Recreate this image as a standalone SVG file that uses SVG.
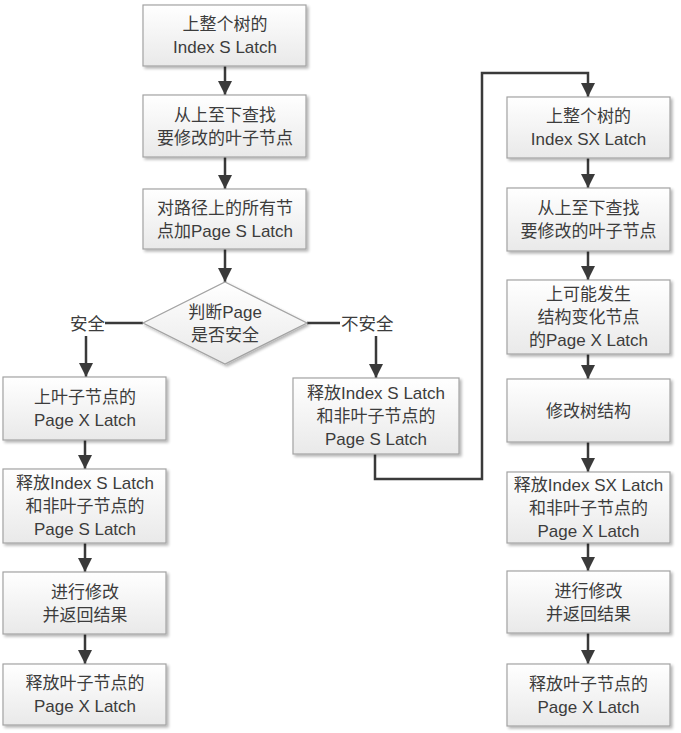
<svg xmlns="http://www.w3.org/2000/svg" width="681" height="733" viewBox="0 0 681 733">
<defs>
<linearGradient id="g" x1="0" y1="0" x2="0" y2="1">
<stop offset="0" stop-color="#ffffff"/>
<stop offset="1" stop-color="#e9e9e9"/>
</linearGradient>
<filter id="sh" x="-10%" y="-10%" width="125%" height="130%">
<feGaussianBlur in="SourceAlpha" stdDeviation="1.5"/>
<feOffset dx="1.5" dy="2" result="o"/>
<feComponentTransfer><feFuncA type="linear" slope="0.3"/></feComponentTransfer>
<feMerge><feMergeNode/><feMergeNode in="SourceGraphic"/></feMerge>
</filter>
<marker id="ah" viewBox="0 0 10 10" refX="10" refY="5" markerWidth="6" markerHeight="5.6" orient="auto">
<path d="M0,0 L10,5 L0,10 z" fill="#3a3a3a"/>
</marker>
</defs>
<style>
.b{fill:url(#g);stroke:#a3a3a3;stroke-width:1.2;filter:url(#sh)}
.t{font-family:"Liberation Sans","Noto Sans CJK SC",sans-serif;font-size:17px;fill:#3c3c3c;text-anchor:middle}
.l{font-family:"Liberation Sans","Noto Sans CJK SC",sans-serif;font-size:17.5px;fill:#3c3c3c}
.c{fill:none;stroke:#3a3a3a;stroke-width:2.5}
.a{marker-end:url(#ah)}
</style>
<g id="connectors">
<line class="c a" x1="225" y1="66" x2="225" y2="95"/>
<line class="c a" x1="225" y1="157" x2="225" y2="189"/>
<line class="c a" x1="225" y1="249" x2="225" y2="282"/>
<line class="c" x1="143" y1="323" x2="105" y2="323"/>
<line class="c a" x1="86" y1="336" x2="86" y2="377"/>
<line class="c" x1="307" y1="323" x2="340" y2="323"/>
<line class="c a" x1="376" y1="336" x2="376" y2="378"/>
<line class="c a" x1="85" y1="440" x2="85" y2="469"/>
<line class="c a" x1="85" y1="543" x2="85" y2="572"/>
<line class="c a" x1="85" y1="634" x2="85" y2="664"/>
<polyline class="c a" points="375,454 375,479 482,479 482,73 588,73 588,97"/>
<line class="c a" x1="588" y1="158" x2="588" y2="188"/>
<line class="c a" x1="588" y1="251" x2="588" y2="280"/>
<line class="c a" x1="588" y1="354" x2="588" y2="379"/>
<line class="c a" x1="588" y1="442" x2="588" y2="472"/>
<line class="c a" x1="588" y1="543" x2="588" y2="571"/>
<line class="c a" x1="588" y1="633" x2="588" y2="664"/>
<text class="l" x="105" y="330" text-anchor="end">安全</text>
<text class="l" x="341" y="330">不安全</text>
</g>
<g id="n1"><rect class="b" x="143" y="5" width="163" height="61"/>
<text class="t" x="225" y="30">上整个树的</text><text class="t" x="225" y="53">Index  S  Latch</text></g>
<g id="n2"><rect class="b" x="143" y="95" width="163" height="62"/>
<text class="t" x="225" y="120.5">从上至下查找</text><text class="t" x="225" y="143.5">要修改的叶子节点</text></g>
<g id="n3"><rect class="b" x="143" y="189" width="163" height="60"/>
<text class="t" x="225" y="213.5">对路径上的所有节</text><text class="t" x="225" y="236.5">点加Page S Latch</text></g>
<g id="d1"><polygon class="b" points="225,282 307,323 225,364 143,323"/>
<text class="t" x="225" y="318">判断Page</text><text class="t" x="225" y="341">是否安全</text></g>
<g id="l1"><rect class="b" x="3" y="377" width="163" height="63"/>
<text class="t" x="85" y="403">上叶子节点的</text><text class="t" x="85" y="426">Page X Latch</text></g>
<g id="l2"><rect class="b" x="3" y="469" width="163" height="74"/>
<text class="t" x="85" y="489">释放Index S Latch</text><text class="t" x="85" y="512">和非叶子节点的</text><text class="t" x="85" y="535">Page S Latch</text></g>
<g id="l3"><rect class="b" x="3" y="572" width="163" height="62"/>
<text class="t" x="85" y="597.5">进行修改</text><text class="t" x="85" y="620.5">并返回结果</text></g>
<g id="l4"><rect class="b" x="3" y="664" width="163" height="61"/>
<text class="t" x="85" y="689">释放叶子节点的</text><text class="t" x="85" y="712">Page X Latch</text></g>
<g id="m1"><rect class="b" x="293" y="378" width="166" height="76"/>
<text class="t" x="376" y="399">释放Index S Latch</text><text class="t" x="376" y="422">和非叶子节点的</text><text class="t" x="376" y="445">Page S Latch</text></g>
<g id="r1"><rect class="b" x="507" y="97" width="163" height="61"/>
<text class="t" x="588.5" y="122">上整个树的</text><text class="t" x="588.5" y="145">Index  SX  Latch</text></g>
<g id="r2"><rect class="b" x="507" y="188" width="163" height="63"/>
<text class="t" x="588.5" y="214">从上至下查找</text><text class="t" x="588.5" y="237">要修改的叶子节点</text></g>
<g id="r3"><rect class="b" x="507" y="280" width="163" height="74"/>
<text class="t" x="588.5" y="300">上可能发生</text><text class="t" x="588.5" y="323">结构变化节点</text><text class="t" x="588.5" y="346">的Page X Latch</text></g>
<g id="r4"><rect class="b" x="507" y="379" width="163" height="63"/>
<text class="t" x="588.5" y="416.5">修改树结构</text></g>
<g id="r5"><rect class="b" x="507" y="472" width="163" height="71"/>
<text class="t" x="588.5" y="490.5">释放Index SX Latch</text><text class="t" x="588.5" y="513.5">和非叶子节点的</text><text class="t" x="588.5" y="536.5">Page X Latch</text></g>
<g id="r6"><rect class="b" x="507" y="571" width="163" height="62"/>
<text class="t" x="588.5" y="596.5">进行修改</text><text class="t" x="588.5" y="619.5">并返回结果</text></g>
<g id="r7"><rect class="b" x="507" y="664" width="163" height="62"/>
<text class="t" x="588.5" y="689.5">释放叶子节点的</text><text class="t" x="588.5" y="712.5">Page X Latch</text></g>
</svg>
